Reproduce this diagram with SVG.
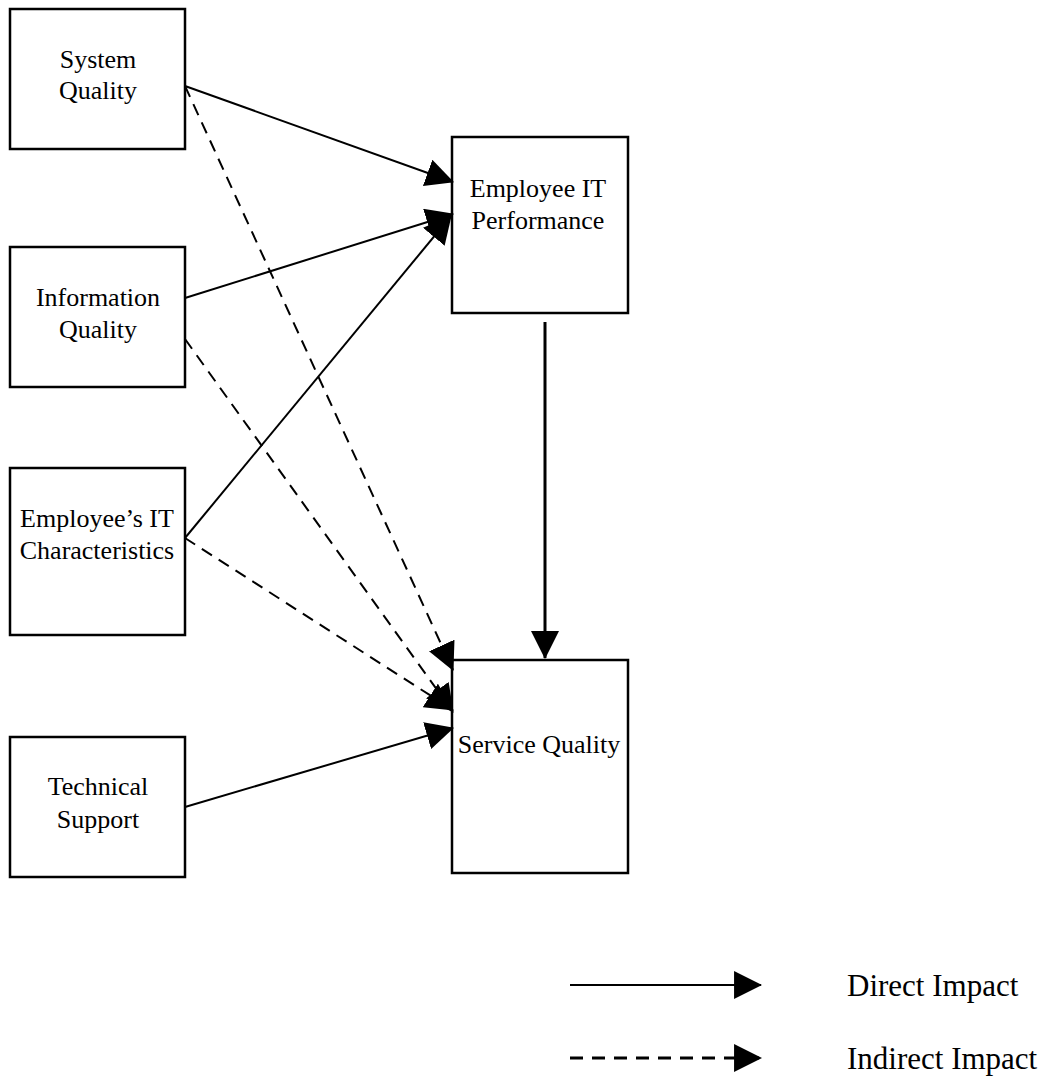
<svg xmlns="http://www.w3.org/2000/svg" width="1050" height="1085" viewBox="0 0 1050 1085">
<style>
.box{fill:#fff;stroke:#000;stroke-width:2.5}
.t{font-family:"Liberation Serif","Times New Roman",serif;font-size:26px;fill:#000;text-anchor:middle}
.lg{font-family:"Liberation Serif","Times New Roman",serif;font-size:31px;fill:#000}
.c{stroke:#000;stroke-width:2;fill:none;marker-end:url(#ah)}
.d{stroke-dasharray:12 8}
</style>
<defs>
<marker id="ah" markerUnits="userSpaceOnUse" markerWidth="28" markerHeight="28" viewBox="0 0 27 27" refX="26" refY="13.5" orient="auto">
<path d="M0,0 L27,13.5 L0,27 z" fill="#000"/>
</marker>
</defs>
<rect width="1050" height="1085" fill="#fff"/>
<g id="nodes">
<g id="system-quality"><rect class="box" x="10" y="9" width="175" height="140"/><text class="t" x="98" y="68">System</text><text class="t" x="98" y="99">Quality</text></g>
<g id="information-quality"><rect class="box" x="10" y="247" width="175" height="140"/><text class="t" x="98" y="306">Information</text><text class="t" x="98" y="338">Quality</text></g>
<g id="employee-it-characteristics"><rect class="box" x="10" y="468" width="175" height="167"/><text class="t" x="97" y="527">Employee’s IT</text><text class="t" x="97" y="559">Characteristics</text></g>
<g id="technical-support"><rect class="box" x="10" y="737" width="175" height="140"/><text class="t" x="98" y="795">Technical</text><text class="t" x="98" y="828">Support</text></g>
<g id="employee-it-performance"><rect class="box" x="452" y="137" width="176" height="176"/><text class="t" x="538" y="197">Employee IT</text><text class="t" x="538" y="229">Performance</text></g>
<g id="service-quality"><rect class="box" x="452" y="660" width="176" height="213"/><text class="t" x="539" y="753">Service Quality</text></g>
</g>
<g id="connectors">
<line class="c" x1="185" y1="86" x2="453" y2="182"/>
<line class="c" x1="185" y1="298" x2="453" y2="214"/>
<line class="c" x1="185" y1="538" x2="451" y2="216"/>
<line class="c" x1="185" y1="807" x2="453" y2="728"/>
<line class="c d" x1="185" y1="86" x2="453" y2="670"/>
<line class="c d" x1="185" y1="339" x2="453" y2="712"/>
<line class="c d" x1="185" y1="538" x2="453" y2="710"/>
<line class="c" style="stroke-width:3" x1="545" y1="322" x2="545" y2="658"/>
</g>
<g id="legend">
<line class="c" x1="570" y1="985" x2="761" y2="985"/>
<line class="c d" style="stroke-width:3;stroke-dasharray:13 9" x1="570" y1="1058" x2="761" y2="1058"/>
<text class="lg" x="847" y="996">Direct Impact</text>
<text class="lg" x="847" y="1069">Indirect Impact</text>
</g>
</svg>
